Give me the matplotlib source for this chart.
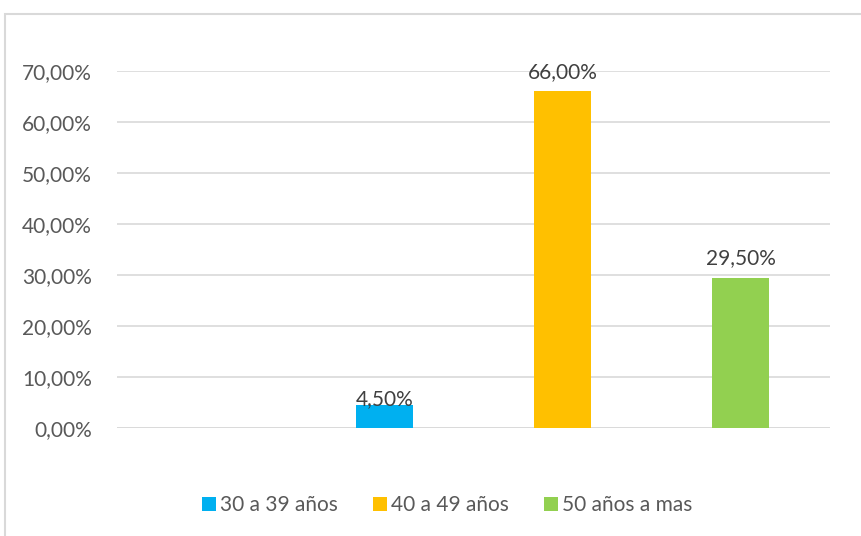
import numpy as np
import matplotlib.pyplot as plt
from matplotlib.patches import Rectangle
from matplotlib.ticker import FuncFormatter

plt.rcParams['font.family'] = ['Lato', 'DejaVu Sans']

# slots on the category axis; the first one stays empty
slots = 4
groups = ['30 a 39 años', '40 a 49 años', '50 años a mas']
values = [0.045, 0.66, 0.295]
labels = ['4,50%', '66,00%', '29,50%']
colors = ['#00B0F0', '#FFC000', '#92D050']
yticks = [0.0, 0.1, 0.2, 0.3, 0.4, 0.5, 0.6, 0.7]

txt = '#595959'
fs = 15
fig = plt.figure(figsize=(8.62, 5.36), dpi=100)
ax = fig.add_axes([117 / 862, 1 - 428 / 536, 713 / 862, 357 / 536])

x = np.arange(slots)
handles = []
for i, (g, v, c, lab) in enumerate(zip(groups, values, colors, labels)):
    b = ax.bar(x[i + 1], v, width=0.32, color=c, label=g, zorder=3)
    handles.append(b)
    off = -3 if v < 0.1 else 7
    ax.annotate(lab, (x[i + 1], v), xytext=(0, off), textcoords='offset points',
                ha='center', va='bottom', fontsize=fs, color='#404040', zorder=4)

ax.set_xlim(-0.5, slots - 0.5)
ax.set_ylim(0, 0.7)
ax.set_yticks(yticks)
ax.yaxis.set_major_formatter(FuncFormatter(lambda v, p: f'{v * 100:.2f}%'.replace('.', ',')))
ax.set_xticks([])
ax.grid(axis='y', color='#D9D9D9', linewidth=1.2, zorder=0)
ax.tick_params(axis='y', length=0, pad=18, labelsize=fs, labelcolor=txt)
for s in ax.spines.values():
    s.set_visible(False)
ax.axhline(0, color='#D9D9D9', linewidth=1.2, zorder=1)

fig.legend(handles=handles, loc='center', bbox_to_anchor=(447 / 862, 1 - 505 / 536),
           ncol=3, frameon=False, fontsize=fs, labelcolor=txt,
           handlelength=0.65, handleheight=0.65, handletextpad=0.2, columnspacing=1.7)

# chart frame
fig.patches.append(Rectangle((5 / 862, -0.01), 1.0, 1 - 14 / 536 + 0.01,
                             transform=fig.transFigure, fill=False,
                             edgecolor='#D9D9D9', linewidth=1.5))

fig.savefig('out.png', dpi=100)
